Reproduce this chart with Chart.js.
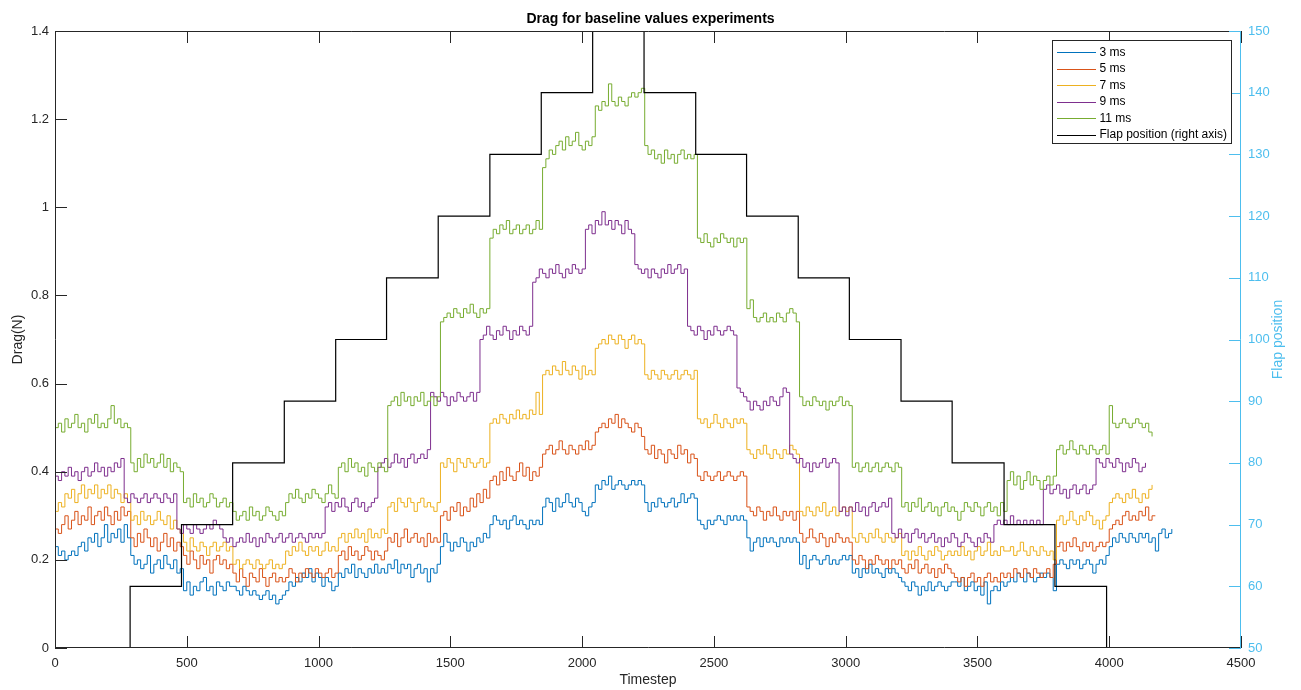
<!DOCTYPE html>
<html>
<head>
<meta charset="utf-8">
<title>Drag for baseline values experiments</title>
<script src="https://cdn.jsdelivr.net/npm/chart.js@4.4.1/dist/chart.umd.min.js"></script>
<style>
  html, body { margin: 0; padding: 0; background: #fff; }
  canvas { display: block; }
</style>
</head>
<body>
<canvas id="dragChart" width="1301" height="690"></canvas>
<script>
// timesteps between two logged drag samples
const sampleStep = 12.5;

// drag (N) per experiment, one value every sampleStep timesteps,
// one row per flap position
const drag3ms = [
  0.23,0.21,0.22,0.20,0.21,0.22,0.21,0.23,0.24,0.22,0.25,0.24,0.26,0.23,0.25,0.28,0.24,0.26,0.25,0.27,0.24,0.28,0.25,
  0.21,0.19,0.20,0.18,0.19,0.21,0.17,0.19,0.20,0.18,0.21,0.19,0.18,0.20,0.17,0.18,
  0.13,0.15,0.12,0.14,0.13,0.15,0.16,0.13,0.14,0.12,0.15,0.14,0.13,0.15,0.14,
  0.14,0.13,0.12,0.14,0.13,0.12,0.13,0.12,0.11,0.12,0.13,0.11,0.12,0.10,0.11,0.12,
  0.13,0.15,0.14,0.16,0.15,0.17,0.16,0.18,0.15,0.17,0.16,0.14,0.16,0.15,0.13,0.14,
  0.17,0.16,0.18,0.17,0.19,0.16,0.18,0.17,0.16,0.18,0.17,0.19,0.17,0.18,0.17,
  0.19,0.18,0.20,0.17,0.19,0.18,0.19,0.16,0.18,0.19,0.17,0.18,0.15,0.18,0.17,0.19,
  0.23,0.26,0.24,0.22,0.24,0.23,0.25,0.24,0.22,0.24,0.23,0.25,0.24,0.26,0.25,
  0.28,0.30,0.29,0.28,0.29,0.27,0.29,0.30,0.28,0.29,0.28,0.27,0.29,0.28,0.29,0.28,
  0.32,0.34,0.33,0.31,0.34,0.32,0.33,0.35,0.33,0.32,0.34,0.33,0.31,0.30,0.32,0.33,
  0.37,0.36,0.38,0.37,0.39,0.36,0.37,0.38,0.37,0.36,0.37,0.38,0.37,0.38,0.37,
  0.33,0.31,0.33,0.32,0.34,0.33,0.32,0.33,0.34,0.32,0.33,0.35,0.33,0.34,0.35,0.34,
  0.29,0.28,0.27,0.29,0.28,0.29,0.30,0.29,0.28,0.30,0.29,0.30,0.29,0.30,0.29,
  0.25,0.22,0.24,0.25,0.23,0.25,0.24,0.25,0.24,0.23,0.25,0.24,0.25,0.24,0.25,0.24,
  0.19,0.21,0.18,0.20,0.21,0.20,0.19,0.20,0.21,0.19,0.20,0.19,0.20,0.21,0.20,0.21,
  0.17,0.18,0.16,0.18,0.17,0.19,0.17,0.18,0.17,0.16,0.18,0.17,0.18,0.17,0.16,
  0.15,0.14,0.13,0.15,0.14,0.12,0.14,0.13,0.15,0.13,0.14,0.15,0.14,0.13,0.14,0.15,
  0.15,0.14,0.16,0.13,0.14,0.15,0.13,0.14,0.12,0.15,0.10,0.13,0.14,0.13,0.15,0.14,
  0.15,0.16,0.15,0.17,0.16,0.15,0.17,0.16,0.15,0.16,0.17,0.16,0.17,0.16,0.13,
  0.19,0.20,0.19,0.18,0.20,0.19,0.20,0.18,0.19,0.20,0.19,0.17,0.19,0.20,0.19,0.21,
  0.23,0.25,0.24,0.26,0.25,0.24,0.26,0.25,0.24,0.26,0.25,0.26,0.24,0.25,0.22,0.26,0.27,0.25,0.26,0.27
];
const drag5ms = [
  0.27,0.26,0.28,0.30,0.27,0.29,0.31,0.28,0.30,0.29,0.32,0.28,0.30,0.31,0.29,0.32,0.30,0.28,0.31,0.29,0.32,0.30,0.31,
  0.25,0.23,0.26,0.24,0.27,0.25,0.23,0.25,0.22,0.24,0.26,0.23,0.25,0.22,0.24,0.23,
  0.21,0.19,0.22,0.20,0.18,0.21,0.19,0.20,0.17,0.20,0.21,0.19,0.20,0.18,0.19,
  0.17,0.15,0.18,0.16,0.14,0.17,0.16,0.15,0.18,0.16,0.14,0.16,0.17,0.15,0.16,0.15,
  0.16,0.18,0.17,0.15,0.17,0.16,0.18,0.17,0.16,0.18,0.17,0.16,0.17,0.18,0.16,0.17,
  0.21,0.22,0.20,0.23,0.21,0.22,0.20,0.21,0.23,0.22,0.20,0.22,0.21,0.20,0.22,
  0.25,0.24,0.26,0.23,0.25,0.27,0.24,0.25,0.26,0.24,0.25,0.23,0.26,0.24,0.25,0.24,
  0.30,0.31,0.29,0.32,0.31,0.33,0.30,0.32,0.31,0.34,0.32,0.35,0.33,0.36,0.34,
  0.38,0.39,0.37,0.40,0.38,0.41,0.39,0.38,0.40,0.42,0.39,0.41,0.38,0.40,0.39,0.41,
  0.44,0.45,0.46,0.44,0.45,0.47,0.45,0.44,0.46,0.45,0.44,0.46,0.45,0.47,0.45,0.46,
  0.49,0.50,0.51,0.50,0.52,0.51,0.53,0.50,0.52,0.51,0.50,0.49,0.51,0.50,0.48,
  0.45,0.44,0.46,0.43,0.45,0.44,0.42,0.45,0.44,0.43,0.46,0.44,0.45,0.42,0.44,0.43,
  0.39,0.38,0.40,0.39,0.38,0.39,0.40,0.38,0.39,0.40,0.39,0.38,0.39,0.40,0.39,
  0.32,0.31,0.30,0.32,0.31,0.29,0.31,0.30,0.32,0.30,0.29,0.31,0.30,0.31,0.29,0.31,
  0.26,0.24,0.25,0.27,0.25,0.24,0.26,0.25,0.23,0.25,0.24,0.26,0.25,0.24,0.25,0.24,
  0.20,0.19,0.21,0.20,0.18,0.20,0.19,0.21,0.20,0.19,0.20,0.18,0.20,0.19,0.20,
  0.18,0.17,0.19,0.18,0.20,0.17,0.18,0.19,0.17,0.18,0.16,0.18,0.17,0.19,0.18,0.17,
  0.16,0.15,0.16,0.14,0.16,0.17,0.15,0.16,0.14,0.16,0.17,0.15,0.16,0.15,0.17,0.16,
  0.17,0.16,0.18,0.17,0.16,0.18,0.17,0.16,0.18,0.17,0.16,0.17,0.18,0.16,0.19,
  0.23,0.24,0.22,0.24,0.23,0.25,0.23,0.22,0.24,0.23,0.24,0.22,0.23,0.24,0.23,0.24,
  0.27,0.28,0.29,0.28,0.30,0.31,0.29,0.30,0.29,0.31,0.30,0.32,0.29,0.30,0.30
];
const drag7ms = [
  0.31,0.33,0.32,0.35,0.34,0.36,0.33,0.35,0.37,0.34,0.36,0.35,0.37,0.34,0.36,0.35,0.37,0.34,0.36,0.35,0.33,0.35,0.33,
  0.29,0.30,0.28,0.31,0.29,0.30,0.28,0.29,0.31,0.29,0.28,0.30,0.27,0.29,0.27,0.26,
  0.24,0.22,0.25,0.23,0.22,0.24,0.23,0.21,0.23,0.24,0.22,0.23,0.24,0.22,0.23,
  0.19,0.20,0.18,0.19,0.20,0.19,0.18,0.20,0.19,0.18,0.19,0.20,0.18,0.19,0.18,0.19,
  0.22,0.21,0.23,0.22,0.24,0.22,0.21,0.23,0.22,0.23,0.21,0.22,0.24,0.22,0.23,0.22,
  0.25,0.26,0.24,0.26,0.25,0.27,0.25,0.26,0.24,0.27,0.25,0.26,0.25,0.27,0.26,
  0.32,0.33,0.31,0.34,0.33,0.32,0.34,0.33,0.31,0.33,0.34,0.32,0.33,0.32,0.31,0.33,
  0.42,0.41,0.43,0.42,0.40,0.43,0.42,0.41,0.43,0.42,0.41,0.42,0.43,0.41,0.42,
  0.51,0.52,0.51,0.53,0.52,0.51,0.53,0.52,0.54,0.52,0.53,0.52,0.54,0.53,0.58,0.53,
  0.62,0.63,0.62,0.64,0.63,0.62,0.65,0.63,0.62,0.64,0.63,0.61,0.64,0.62,0.63,0.62,
  0.68,0.69,0.70,0.69,0.71,0.70,0.69,0.71,0.70,0.68,0.70,0.71,0.69,0.70,0.69,
  0.62,0.61,0.63,0.62,0.61,0.63,0.62,0.61,0.62,0.63,0.61,0.62,0.63,0.62,0.61,0.63,
  0.52,0.51,0.52,0.50,0.51,0.53,0.51,0.50,0.52,0.51,0.50,0.52,0.51,0.52,0.51,
  0.45,0.44,0.43,0.45,0.44,0.46,0.44,0.43,0.45,0.44,0.43,0.45,0.44,0.46,0.45,0.44,
  0.31,0.30,0.32,0.31,0.30,0.32,0.31,0.33,0.30,0.31,0.32,0.30,0.31,0.32,0.31,0.32,
  0.25,0.24,0.26,0.25,0.24,0.26,0.25,0.27,0.25,0.24,0.26,0.25,0.24,0.25,0.26,
  0.21,0.22,0.20,0.22,0.21,0.23,0.21,0.20,0.22,0.21,0.23,0.22,0.20,0.21,0.22,0.21,
  0.22,0.21,0.23,0.21,0.22,0.20,0.22,0.23,0.21,0.22,0.24,0.21,0.22,0.21,0.23,0.22,
  0.22,0.23,0.21,0.22,0.24,0.22,0.21,0.23,0.22,0.21,0.23,0.22,0.21,0.22,0.20,
  0.29,0.30,0.28,0.29,0.31,0.29,0.28,0.30,0.29,0.31,0.30,0.28,0.29,0.27,0.29,0.30,
  0.33,0.34,0.35,0.34,0.33,0.35,0.34,0.36,0.34,0.33,0.35,0.34,0.36,0.37
];
const drag9ms = [
  0.39,0.38,0.40,0.39,0.41,0.39,0.40,0.38,0.40,0.41,0.39,0.40,0.42,0.40,0.41,0.39,0.41,0.40,0.42,0.41,0.43,
  0.34,0.33,0.35,0.34,0.33,0.34,0.35,0.33,0.34,0.35,0.34,0.33,0.35,0.34,0.33,0.35,
  0.27,0.26,0.28,0.27,0.26,0.28,0.27,0.26,0.27,0.28,0.27,0.29,0.28,0.27,
  0.25,0.24,0.25,0.23,0.24,0.25,0.24,0.26,0.24,0.25,0.23,0.25,0.24,0.26,0.25,0.24,
  0.25,0.26,0.24,0.25,0.26,0.24,0.25,0.26,0.25,0.24,0.26,0.25,0.26,0.25,0.26,
  0.32,0.33,0.31,0.33,0.32,0.34,0.32,0.31,0.33,0.34,0.32,0.33,0.31,0.32,0.33,0.34,
  0.41,0.42,0.43,0.41,0.42,0.44,0.42,0.43,0.41,0.43,0.44,0.42,0.43,0.44,0.43,0.45,
  0.58,0.57,0.56,0.58,0.57,0.55,0.57,0.56,0.58,0.57,0.56,0.57,0.58,0.56,0.58,
  0.70,0.71,0.73,0.71,0.70,0.72,0.71,0.73,0.72,0.70,0.72,0.71,0.73,0.72,0.71,0.73,
  0.83,0.84,0.86,0.85,0.84,0.86,0.85,0.87,0.85,0.84,0.86,0.85,0.87,0.86,0.85,0.86,
  0.95,0.96,0.94,0.97,0.96,0.99,0.96,0.97,0.95,0.97,0.96,0.94,0.97,0.95,0.94,
  0.87,0.86,0.85,0.86,0.84,0.86,0.85,0.84,0.86,0.85,0.87,0.85,0.86,0.87,0.85,0.86,
  0.73,0.72,0.71,0.73,0.72,0.70,0.72,0.71,0.73,0.72,0.71,0.72,0.73,0.72,0.71,
  0.59,0.58,0.57,0.56,0.54,0.56,0.55,0.54,0.56,0.55,0.57,0.56,0.55,0.57,0.59,0.58,
  0.44,0.43,0.42,0.43,0.41,0.42,0.40,0.42,0.41,0.42,0.43,0.41,0.42,0.43,0.42,
  0.31,0.32,0.30,0.32,0.31,0.33,0.31,0.32,0.30,0.32,0.33,0.31,0.32,0.33,0.32,0.34,
  0.26,0.25,0.27,0.25,0.26,0.24,0.26,0.27,0.25,0.26,0.24,0.25,0.26,0.24,0.25,0.23,
  0.25,0.24,0.26,0.25,0.23,0.24,0.26,0.25,0.24,0.23,0.25,0.24,0.26,0.25,0.24,
  0.28,0.29,0.28,0.29,0.28,0.30,0.28,0.29,0.28,0.29,0.28,0.29,0.28,0.29,0.28,
  0.36,0.37,0.35,0.36,0.37,0.35,0.36,0.34,0.36,0.37,0.35,0.36,0.37,0.35,0.36,0.37,
  0.43,0.42,0.41,0.43,0.42,0.41,0.43,0.42,0.40,0.42,0.41,0.43,0.42,0.40,0.41,0.42
];
const drag11ms = [
  0.50,0.51,0.49,0.52,0.50,0.51,0.53,0.50,0.51,0.49,0.52,0.51,0.53,0.50,0.51,0.50,0.52,0.55,0.51,0.52,0.50,0.51,0.50,
  0.42,0.40,0.43,0.41,0.44,0.42,0.43,0.41,0.42,0.44,0.41,0.43,0.40,0.42,0.41,0.40,
  0.33,0.34,0.32,0.35,0.33,0.34,0.32,0.33,0.35,0.34,0.32,0.33,0.34,0.32,0.33,
  0.31,0.29,0.30,0.31,0.29,0.32,0.30,0.31,0.29,0.30,0.32,0.31,0.30,0.29,0.31,0.30,
  0.33,0.35,0.34,0.36,0.34,0.33,0.35,0.34,0.36,0.35,0.34,0.33,0.35,0.37,0.35,0.34,
  0.41,0.42,0.40,0.43,0.41,0.42,0.40,0.41,0.39,0.42,0.41,0.40,0.42,0.41,0.40,
  0.55,0.56,0.57,0.55,0.58,0.56,0.57,0.55,0.57,0.56,0.58,0.55,0.56,0.57,0.55,0.57,
  0.74,0.75,0.76,0.75,0.77,0.76,0.75,0.77,0.76,0.78,0.76,0.75,0.77,0.76,0.77,
  0.93,0.95,0.94,0.96,0.95,0.97,0.94,0.95,0.96,0.94,0.95,0.96,0.94,0.95,0.97,0.95,
  1.09,1.11,1.13,1.12,1.14,1.15,1.13,1.16,1.14,1.15,1.17,1.14,1.13,1.15,1.14,1.16,
  1.23,1.22,1.24,1.23,1.28,1.24,1.23,1.25,1.24,1.23,1.25,1.26,1.25,1.26,1.27,
  1.14,1.12,1.13,1.11,1.12,1.10,1.13,1.11,1.12,1.10,1.12,1.13,1.11,1.12,1.11,1.12,
  0.93,0.92,0.94,0.92,0.91,0.93,0.92,0.94,0.93,0.92,0.93,0.91,0.93,0.92,0.93,
  0.77,0.79,0.75,0.74,0.75,0.76,0.74,0.75,0.74,0.76,0.75,0.74,0.76,0.77,0.76,0.74,
  0.57,0.55,0.56,0.55,0.57,0.56,0.55,0.56,0.54,0.56,0.55,0.56,0.57,0.55,0.56,0.55,
  0.41,0.42,0.40,0.41,0.42,0.40,0.41,0.42,0.40,0.41,0.42,0.41,0.40,0.42,0.41,
  0.32,0.33,0.31,0.33,0.32,0.34,0.31,0.32,0.33,0.31,0.32,0.30,0.32,0.33,0.31,0.32,
  0.31,0.29,0.31,0.33,0.32,0.31,0.33,0.32,0.30,0.32,0.33,0.31,0.32,0.30,0.33,0.31,
  0.38,0.40,0.37,0.39,0.36,0.38,0.40,0.37,0.39,0.38,0.36,0.38,0.39,0.37,0.39,
  0.45,0.46,0.44,0.45,0.47,0.45,0.44,0.46,0.45,0.44,0.46,0.45,0.44,0.45,0.46,0.44,
  0.55,0.51,0.50,0.51,0.52,0.51,0.50,0.51,0.52,0.51,0.50,0.51,0.49,0.48
];

// flap position schedule: timestep where each position starts
const flapSteps = [0, 285, 480, 674, 870, 1065, 1258, 1454, 1650, 1845, 2040,
                   2235, 2431, 2624, 2820, 3014, 3210, 3404, 3601, 3794, 3990, 4186];
const flapPositions = [50, 60, 70, 80, 90, 100, 110, 120, 130, 140, 150,
                       140, 130, 120, 110, 100, 90, 80, 70, 60, 50, 50];

const seriesLabels = ['3 ms', '5 ms', '7 ms', '9 ms', '11 ms'];
const seriesColors = ['#0072BD', '#D95319', '#EDB120', '#7E2F8E', '#77AC30'];
const axisColor = '#262626';
const rightColor = '#4DBEEE';

Chart.defaults.font.family = '"Liberation Sans", Arial, Helvetica, sans-serif';
Chart.defaults.color = axisColor;

function toPoints(values) {
    return values.map((v, i) => ({ x: i * sampleStep, y: v }));
}

const dragSeries = [drag3ms, drag5ms, drag7ms, drag9ms, drag11ms];
const datasets = dragSeries.map((values, k) => ({
    label: seriesLabels[k],
    data: toPoints(values),
    borderColor: seriesColors[k],
    borderWidth: 1,
    pointRadius: 0,
    stepped: true,
    yAxisID: 'y',
    order: 5 - k
}));
datasets.push({
    label: 'Flap position (right axis)',
    data: flapSteps.map((t, i) => ({ x: t, y: flapPositions[i] })),
    borderColor: '#000000',
    borderWidth: 1.2,
    pointRadius: 0,
    stepped: true,
    yAxisID: 'y2',
    order: 0
});

// box, inward ticks, right axis label and legend in the MATLAB look
const matlabAxes = {
    id: 'matlabAxes',
    afterDatasetsDraw(chart) {
        const { ctx, chartArea: a, scales } = chart;
        const tickLen = 12;
        ctx.save();
        ctx.lineWidth = 1;

        ctx.strokeStyle = axisColor;
        ctx.beginPath();
        ctx.moveTo(a.right, a.top + 0.5);
        ctx.lineTo(a.left + 0.5, a.top + 0.5);
        ctx.lineTo(a.left + 0.5, a.bottom - 0.5);
        ctx.lineTo(a.right, a.bottom - 0.5);
        scales.x.ticks.forEach(t => {
            const px = Math.round(scales.x.getPixelForValue(t.value)) + 0.5;
            ctx.moveTo(px, a.bottom);
            ctx.lineTo(px, a.bottom - tickLen);
            ctx.moveTo(px, a.top);
            ctx.lineTo(px, a.top + tickLen);
        });
        scales.y.ticks.forEach(t => {
            const py = Math.round(scales.y.getPixelForValue(t.value)) + 0.5;
            ctx.moveTo(a.left, py);
            ctx.lineTo(a.left + tickLen, py);
        });
        ctx.stroke();

        ctx.strokeStyle = rightColor;
        ctx.beginPath();
        ctx.moveTo(a.right - 0.5, a.top);
        ctx.lineTo(a.right - 0.5, a.bottom);
        scales.y2.ticks.forEach(t => {
            const py = Math.round(scales.y2.getPixelForValue(t.value)) + 0.5;
            ctx.moveTo(a.right, py);
            ctx.lineTo(a.right - tickLen, py);
        });
        ctx.stroke();

        // right axis title, read bottom to top
        ctx.fillStyle = rightColor;
        ctx.font = '14px "Liberation Sans", Arial, sans-serif';
        ctx.textAlign = 'center';
        ctx.textBaseline = 'middle';
        ctx.translate(1278, (a.top + a.bottom) / 2);
        ctx.rotate(-Math.PI / 2);
        ctx.fillText('Flap position', 0, 0);
        ctx.setTransform(1, 0, 0, 1, 0, 0);

        // legend box in the upper right corner
        const boxW = 179, boxH = 103;
        const bx = Math.round(a.right - 10 - boxW) + 0.5;
        const by = Math.round(a.top + 10) - 0.5;
        ctx.fillStyle = '#ffffff';
        ctx.fillRect(bx, by, boxW, boxH);
        ctx.strokeStyle = axisColor;
        ctx.strokeRect(bx, by, boxW, boxH);
        ctx.font = '12px "Liberation Sans", Arial, sans-serif';
        ctx.textAlign = 'left';
        ctx.fillStyle = '#000000';
        datasets.forEach((d, i) => {
            const ry = by + 11.5 + i * 16.5;
            ctx.strokeStyle = d.borderColor;
            ctx.beginPath();
            ctx.moveTo(bx + 4.5, Math.round(ry) + 0.5);
            ctx.lineTo(bx + 43.5, Math.round(ry) + 0.5);
            ctx.stroke();
            ctx.fillText(d.label, bx + 47, ry + 0.5);
        });
        ctx.restore();
    }
};

new Chart(document.getElementById('dragChart'), {
    type: 'line',
    data: { datasets },
    plugins: [matlabAxes],
    options: {
        responsive: false,
        animation: false,
        layout: { padding: 0 },
        plugins: {
            legend: { display: false },
            tooltip: { enabled: false },
            title: {
                display: true,
                text: 'Drag for baseline values experiments',
                color: '#000000',
                font: { size: 14, weight: 'bold' },
                padding: { top: 11, bottom: 3.2 }
            }
        },
        scales: {
            x: {
                type: 'linear',
                min: 0,
                max: 4500,
                ticks: {
                    stepSize: 500,
                    color: axisColor,
                    font: { size: 13 },
                    padding: 8,
                    maxRotation: 0,
                    callback: v => String(v)
                },
                grid: { display: false, drawTicks: false },
                border: { display: false },
                title: { display: true, text: 'Timestep', color: axisColor, font: { size: 14 }, padding: { top: 0, bottom: 1 } },
                afterFit: s => { s.height = 42; }
            },
            y: {
                position: 'left',
                min: 0,
                max: 1.4,
                ticks: {
                    stepSize: 0.2,
                    color: axisColor,
                    font: { size: 13 },
                    padding: 6,
                    callback: v => String(+v.toFixed(1))
                },
                grid: { display: false, drawTicks: false },
                border: { display: false },
                title: { display: true, text: 'Drag(N)', color: axisColor, font: { size: 14 }, padding: { top: 10, bottom: 0 } },
                afterFit: s => { s.width = 55; }
            },
            y2: {
                position: 'right',
                min: 50,
                max: 150,
                ticks: { stepSize: 10, color: rightColor, font: { size: 13 }, padding: 7 },
                grid: { display: false, drawTicks: false },
                border: { display: false },
                afterFit: s => { s.width = 60; }
            }
        }
    }
});
</script>
</body>
</html>
